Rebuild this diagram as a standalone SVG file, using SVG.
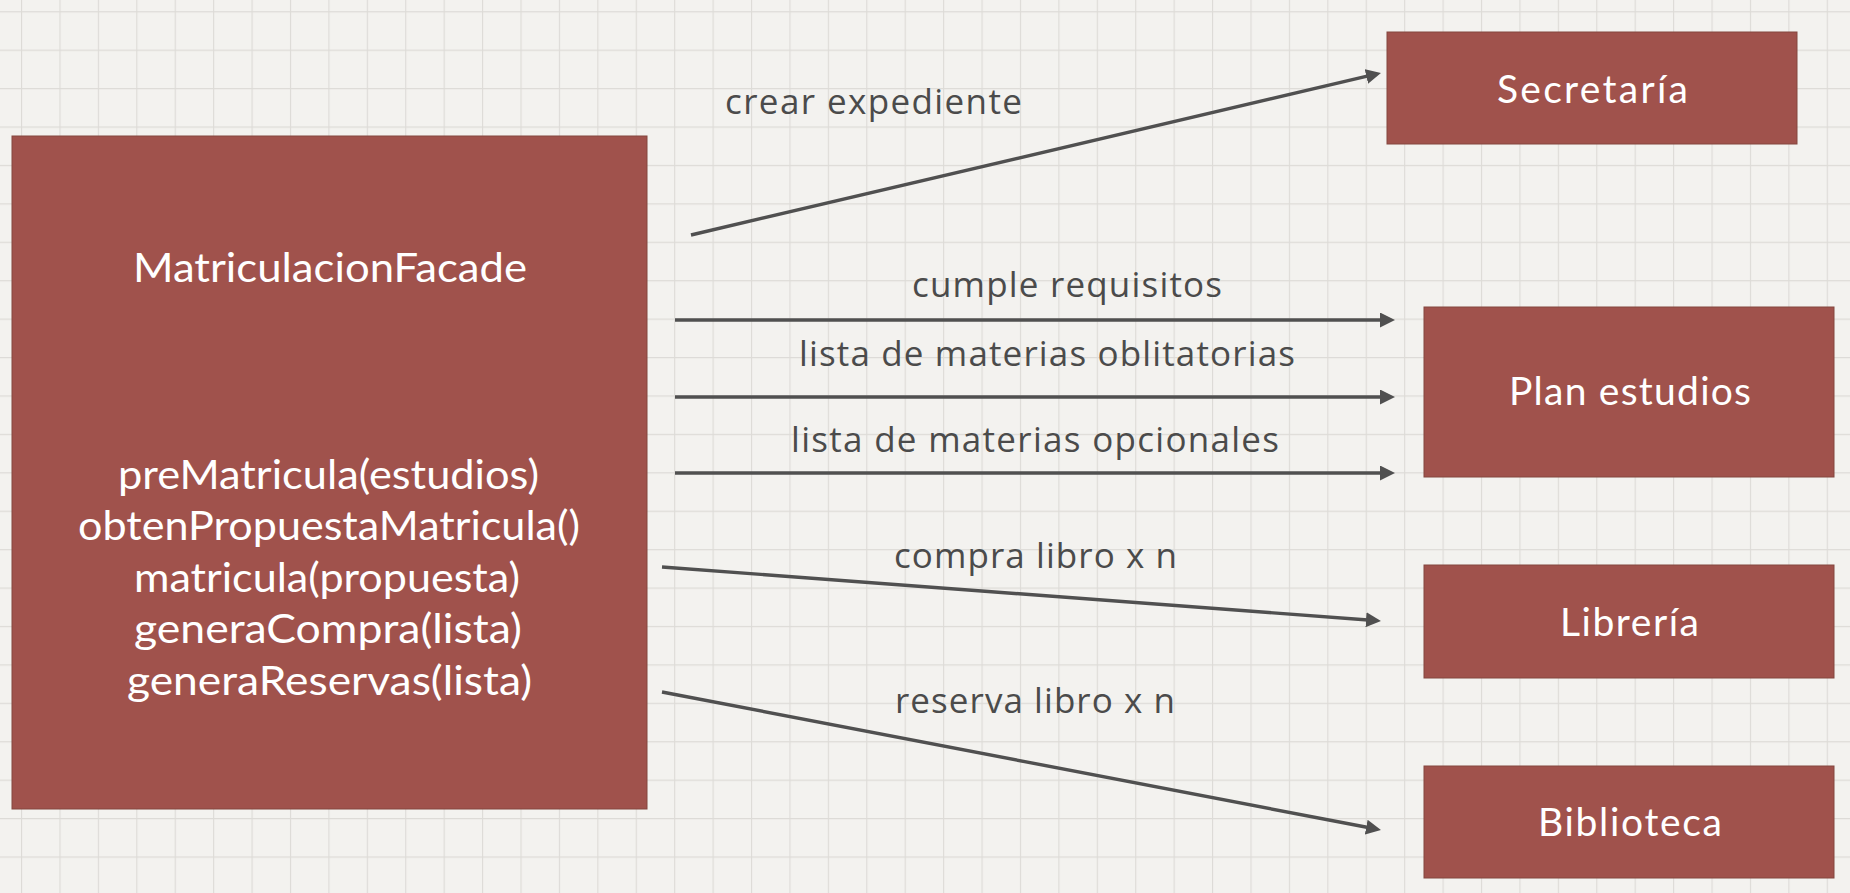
<svg xmlns="http://www.w3.org/2000/svg" width="1850" height="893" viewBox="0 0 1850 893">
  <style>
    .node { fill: #a0524c; stroke: #84463f; stroke-width: 1; }
    .wt { fill: #ffffff; font-family: Lato, "Open Sans", "Liberation Sans", sans-serif; font-size: 40px; }
    .bt { fill: #ffffff; font-family: Lato, "Open Sans", "Liberation Sans", sans-serif; font-size: 39px; }
    .lbl { fill: #4b4b4b; font-family: "Open Sans", "Noto Sans", "Liberation Sans", sans-serif; font-size: 35px; }
    .edge { stroke: #505050; stroke-width: 3.4; fill: none; marker-end: url(#arrow); }
  </style>
  <defs>
    <pattern id="grid" x="21" y="11.2" width="38.42" height="38.42" patternUnits="userSpaceOnUse">
      <path d="M0 0.5H38.42M0.5 0V38.42" stroke="#dddbd7" stroke-width="1.3" fill="none"/>
    </pattern>
    <marker id="arrow" viewBox="0 0 15 15" refX="2" refY="7.5" markerWidth="15" markerHeight="15" markerUnits="userSpaceOnUse" orient="auto">
      <path d="M0 0L15 7.5L0 15Z" fill="#505050"/>
    </marker>
  </defs>

  <rect width="1850" height="893" fill="#f3f2ef"/>
  <rect width="1850" height="893" fill="url(#grid)"/>

  <g id="connectors">
    <g id="e-crear">
      <line class="edge" x1="691" y1="235" x2="1368.3" y2="75.9"/>
      <text class="lbl" x="725" y="114" textLength="297" lengthAdjust="spacing">crear expediente</text>
    </g>
    <g id="e-cumple">
      <line class="edge" x1="675" y1="320" x2="1382" y2="320"/>
      <text class="lbl" x="912" y="297" textLength="310" lengthAdjust="spacing">cumple requisitos</text>
    </g>
    <g id="e-oblig">
      <line class="edge" x1="675" y1="397" x2="1382" y2="397"/>
      <text class="lbl" x="799" y="366" textLength="496" lengthAdjust="spacing">lista de materias oblitatorias</text>
    </g>
    <g id="e-opc">
      <line class="edge" x1="675" y1="473" x2="1382" y2="473"/>
      <text class="lbl" x="791" y="452" textLength="488" lengthAdjust="spacing">lista de materias opcionales</text>
    </g>
    <g id="e-compra">
      <line class="edge" x1="662" y1="567" x2="1368" y2="620"/>
      <text class="lbl" x="894" y="568" textLength="283" lengthAdjust="spacing">compra libro x n</text>
    </g>
    <g id="e-reserva">
      <line class="edge" x1="662" y1="692" x2="1368.2" y2="827.5"/>
      <text class="lbl" x="895" y="713" textLength="280" lengthAdjust="spacing">reserva libro x n</text>
    </g>
  </g>

  <g id="facade">
    <rect class="node" x="12" y="136" width="635" height="673"/>
    <text class="wt" x="133" y="282" textLength="394" lengthAdjust="spacingAndGlyphs">MatriculacionFacade</text>
    <text class="wt" x="118" y="489" textLength="421" lengthAdjust="spacingAndGlyphs">preMatricula(estudios)</text>
    <text class="wt" x="78" y="540" textLength="502" lengthAdjust="spacingAndGlyphs">obtenPropuestaMatricula()</text>
    <text class="wt" x="134" y="592" textLength="386" lengthAdjust="spacingAndGlyphs">matricula(propuesta)</text>
    <text class="wt" x="134" y="643" textLength="388" lengthAdjust="spacingAndGlyphs">generaCompra(lista)</text>
    <text class="wt" x="127" y="695" textLength="405" lengthAdjust="spacingAndGlyphs">generaReservas(lista)</text>
  </g>

  <g id="secretaria">
    <rect class="node" x="1387" y="32" width="410" height="112"/>
    <text class="bt" x="1497" y="103" textLength="191" lengthAdjust="spacing">Secretaría</text>
  </g>
  <g id="plan-estudios">
    <rect class="node" x="1424" y="307" width="410" height="170"/>
    <text class="bt" x="1509" y="405" textLength="242" lengthAdjust="spacing">Plan estudios</text>
  </g>
  <g id="libreria">
    <rect class="node" x="1424" y="565" width="410" height="113"/>
    <text class="bt" x="1560" y="636" textLength="139" lengthAdjust="spacing">Librería</text>
  </g>
  <g id="biblioteca">
    <rect class="node" x="1424" y="766" width="410" height="112"/>
    <text class="bt" x="1538" y="836" textLength="184" lengthAdjust="spacing">Biblioteca</text>
  </g>
</svg>
